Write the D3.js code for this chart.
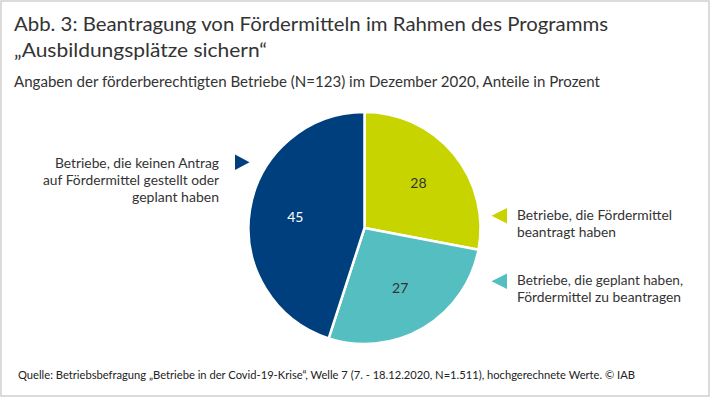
<!DOCTYPE html>
<html><head><meta charset="utf-8">
<script src="https://cdn.jsdelivr.net/npm/d3@7"></script>
<style>body{margin:0;background:#fff}svg{display:block}text{font-family:"Source Sans Pro",Lato,"Open Sans",sans-serif}</style>
</head><body>
<script>
const categories = ["Betriebe, die Fördermittel beantragt haben","Betriebe, die geplant haben, Fördermittel zu beantragen","Betriebe, die keinen Antrag auf Fördermittel gestellt oder geplant haben"];
const values = [28, 27, 45];
const colors = ["#c8d400", "#55bec0", "#003f7d"];
const labelColors = ["#333333", "#333333", "#ffffff"];
const titleLines = ["Abb. 3: Beantragung von Fördermitteln im Rahmen des Programms", "„Ausbildungsplätze sichern“"];
const subtitle = "Angaben der förderberechtigten Betriebe (N=123) im Dezember 2020, Anteile in Prozent";
const source = "Quelle: Betriebsbefragung „Betriebe in der Covid-19-Krise“, Welle 7 (7. - 18.12.2020, N=1.511), hochgerechnete Werte. © IAB";
const legendLines = [["Betriebe, die Fördermittel","beantragt haben"],["Betriebe, die geplant haben,","Fördermittel zu beantragen"],["Betriebe, die keinen Antrag","auf Fördermittel gestellt oder","geplant haben"]];

const W = 711, H = 398;
const svg = d3.select("body").append("svg").attr("width", W).attr("height", H);
svg.append("rect").attr("x",1).attr("y",1).attr("width",W-3).attr("height",H-3).attr("fill","#fff").attr("stroke","#cfcfcf").attr("stroke-width",1.5);

function fitText(sel, width){ sel.attr("textLength", width).attr("lengthAdjust","spacingAndGlyphs"); }

const t1 = svg.append("text").attr("x",14).attr("y",31).attr("font-size",20).attr("fill","#333").text(titleLines[0]);
fitText(t1, 594);
const t2 = svg.append("text").attr("x",14).attr("y",57).attr("font-size",20).attr("fill","#333").text(titleLines[1]);
fitText(t2, 253);
const st = svg.append("text").attr("x",14).attr("y",87).attr("font-size",14.5).attr("fill","#333").text(subtitle);
fitText(st, 586);
const src = svg.append("text").attr("x",18).attr("y",379).attr("font-size",11.5).attr("fill","#222").text(source);
fitText(src, 617);

const cx = 364.5, cy = 228, R = 116;
const pie = d3.pie().sort(null).value(d=>d);
const arcs = pie(values);
const arc = d3.arc().innerRadius(0).outerRadius(R);
const labelArc = d3.arc().innerRadius(70).outerRadius(70);
const g = svg.append("g").attr("transform",`translate(${cx},${cy})`);
g.selectAll("path").data(arcs).join("path").attr("d",arc).attr("fill",(d,i)=>colors[i]).attr("stroke","#fff").attr("stroke-width",2.5).attr("stroke-linejoin","round");
g.selectAll("text.v").data(arcs).join("text").attr("class","v")
  .attr("transform",d=>`translate(${labelArc.centroid(d)})`)
  .attr("text-anchor","middle").attr("dy","0.35em").attr("font-size",14).attr("fill",(d,i)=>labelColors[i])
  .text(d=>d.data);

// legend-like annotations
const fs = 14;
function lines(x, y0, arr, anchor, widths){
  arr.forEach((s,i)=>{
    const t = svg.append("text").attr("x",x).attr("y",y0+i*17).attr("font-size",fs).attr("fill","#333").attr("text-anchor",anchor).text(s);
    if(widths) fitText(t, widths[i]);
  });
}
// right side
svg.append("path").attr("d","M507,208 L507,223.5 L491.5,215.75 Z").attr("fill",colors[0]);
lines(517, 219.5, legendLines[0], "start", [155,99]);
svg.append("path").attr("d","M507,273.5 L507,289 L491.5,281.25 Z").attr("fill",colors[1]);
lines(517, 285, legendLines[1], "start", [166,164]);
// left side
svg.append("path").attr("d","M235,154.5 L235,170 L249.5,162.25 Z").attr("fill",colors[2]);
lines(219, 168, legendLines[2], "end", [164,176,87]);
</script>
</body></html>
